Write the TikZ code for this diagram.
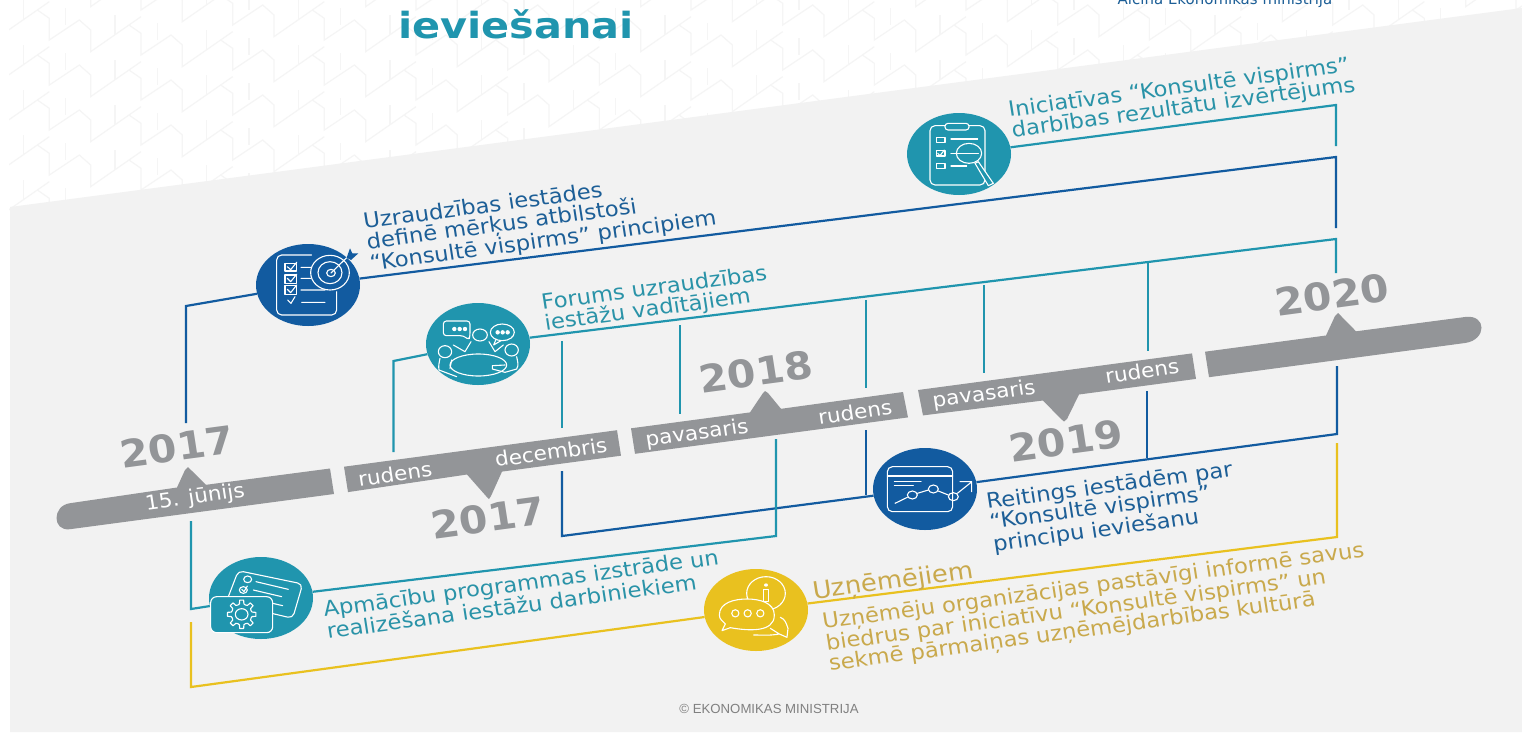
\documentclass[tikz,border=0pt]{standalone}
\usepackage{fontspec}
\setmainfont{DejaVu Sans}
\newfontfamily\liberationsans{Liberation Sans}
\usetikzlibrary{shapes.geometric}
\definecolor{panelc}{HTML}{F2F2F2}
\definecolor{patc}{HTML}{F5F5F5}
\definecolor{bandc}{HTML}{939598}
\definecolor{dblue}{HTML}{125BA0}
\definecolor{teal1}{HTML}{2095AE}
\definecolor{yell}{HTML}{E9C11F}
\definecolor{tblue}{HTML}{1D5F97}
\definecolor{tteal}{HTML}{2A93A8}
\definecolor{tyell}{HTML}{C9A94C}
\tikzset{
  sk/.style={transform shape,cm={1.069,0.1426,-0.154,0.99,(0,0)},inner sep=0pt,align=left},
  sktext/.style={sk,anchor=north west,font=\fontsize{21}{20.5}\selectfont},
  year/.style={sk,align=center,text=bandc,font=\fontsize{38}{38}\selectfont\bfseries},
  bandlabel/.style={sk,align=center,text=white,font=\fontsize{20}{22}\selectfont},
  iconball/.style={ellipse,minimum width=104pt,minimum height=82pt,inner sep=0pt},
  link/.style={line width=2.2pt,line join=miter},
  ico/.style={draw=white,line width=1.1pt,line join=round,line cap=round},
}
\begin{document}
\begin{tikzpicture}[x=1pt,y=-1pt]
\useasboundingbox (0,0) rectangle (1522,732);
\fill[white] (0,0) rectangle (1522,732);
% background pattern
\begin{scope}
\clip (9,0) rectangle (1522,215);
\foreach \i in {-2,...,16}{\foreach \j in {-8,...,5}{
  \begin{scope}[shift={({\i*91.67},{\i*15+\j*45})},x=.3333pt,y=-.3333pt]
    \draw[patc,line width=1.2pt] (112,30)--(148,55)--(148,120)--(238,60)--(272,90)--(272,155)--(423,50);
    \draw[patc,line width=1.2pt] (197,25)--(197,75) (345,45)--(345,105);
  \end{scope}}}
\end{scope}
% panel
\fill[panelc] (10,207)--(1522,8)--(1522,732)--(10,732)--cycle;
% icon balls
\node[iconball,fill=dblue] (ic1) at (308,285) {};
\node[iconball,fill=teal1] (ic2) at (478,344) {};
\node[iconball,fill=teal1] (ic3) at (959,154) {};
\node[iconball,fill=dblue] (ic4) at (925,489) {};
\node[iconball,fill=teal1] (ic5) at (261,598) {};
\node[iconball,fill=yell]  (ic6) at (756,610) {};
% free ends
\coordinate (a1) at (186,423); \coordinate (a2) at (186,306); \coordinate (a3) at (1336,157); \coordinate (a4) at (1336,228);
\coordinate (b1) at (393.5,452); \coordinate (b2) at (393.5,361); \coordinate (b3) at (1336,239); \coordinate (b4) at (1336,273);
\coordinate (c1) at (1336,105); \coordinate (c2) at (1336,146);
\coordinate (d1) at (562,471); \coordinate (d2) at (562,536); \coordinate (d3) at (1337,434); \coordinate (d4) at (1337,366);
\coordinate (e1) at (191,521); \coordinate (e2) at (191,609); \coordinate (e3) at (776,536); \coordinate (e4) at (776,439);
\coordinate (f1) at (191,622); \coordinate (f2) at (191,687); \coordinate (f3) at (1337,537); \coordinate (f4) at (1337,443);
% connectors
\draw[link,dblue] (a1)--(a2)--(ic1);
\draw[link,dblue] (ic1)--(a3)--(a4);
\draw[link,teal1] (b1)--(b2)--(ic2);
\draw[link,teal1] (ic2)--(b3)--(b4);
\draw[link,teal1] (ic3)--(c1)--(c2);
\draw[link,dblue] (d1)--(d2)--(ic4);
\draw[link,dblue] (ic4)--(d3)--(d4);
\draw[link,teal1] (e1)--(e2)--(ic5);
\draw[link,teal1] (ic5)--(e3)--(e4);
\draw[link,yell] (f1)--(f2)--(ic6);
\draw[link,yell] (ic6)--(f3)--(f4);
% verticals from the forum line and rating line
\coordinate (v1a) at (562,341); \coordinate (v1b) at (562,428);
\coordinate (v2a) at (680,325); \coordinate (v2b) at (680,414);
\coordinate (v3a) at (866,300); \coordinate (v3b) at (866,388);
\coordinate (v4a) at (984,285); \coordinate (v4b) at (984,373);
\coordinate (v5a) at (1148,263); \coordinate (v5b) at (1148,351);
\coordinate (w1a) at (866,430); \coordinate (w1b) at (866,495);
\coordinate (w2a) at (1147,391); \coordinate (w2b) at (1147,458);
\foreach \p in {v1,v2,v3,v4,v5}{\draw[link,teal1] (\p a)--(\p b);}
\foreach \p in {w1,w2}{\draw[link,dblue] (\p a)--(\p b);}
% band
\fill[bandc] (70,503.2) .. controls (52,505.6) and (52,531.6) .. (70,529.2) -- (334,494) -- (330,468.5)
  -- (206,484.8) -- (191,470) -- (188,467) -- (185,470) -- (177,487.5) -- cycle;
\fill[bandc] (344,466.7)--(617,430.2)--(621,455.7)--(502,471.6)--(491,496) -- (489,499) -- (486,496)--(467,474.5)--(348,492.1)--cycle;
\fill[bandc] (631,428.3)--(750,412.4)--(763,393)--(765,391)--(768,393)--(781,408.8)--(903,392)--(908,417.4)--(635,453.8)--cycle;
\fill[bandc] (918,390)--(1192,353.4)--(1196,378.9)--(1079,394.5)--(1067,419)--(1064,421.5)--(1061,419)--(1043,400.5)--(923,415.4)--cycle;
\fill[bandc] (1205,351.7)--(1326,335.5)--(1335,316)--(1338,313)--(1341,316)--(1356,331.3)--(1465,317)
  .. controls (1487,314) and (1487,340) .. (1465,343)--(1209,377.2)--cycle;
% years
\node[year] (y17a) at (177,447) {2017};
\node[year] (y17b) at (488,518) {2017};
\node[year] (y18) at (756,372) {2018};
\node[year] (y19) at (1066,441) {2019};
\node[year] (y20) at (1332,295) {2020};
% band labels
\node[bandlabel] (l1) at (195,498) {15. jūnijs};
\node[bandlabel] (l2) at (395,474) {rudens};
\node[bandlabel] (l3) at (551,452) {decembris};
\node[bandlabel] (l4) at (697,434) {pavasaris};
\node[bandlabel] (l5) at (855,412) {rudens};
\node[bandlabel] (l6) at (984,395) {pavasaris};
\node[bandlabel] (l7) at (1142,371) {rudens};
% texts
\node[sktext,text=tblue] (t1) at (362,213) {Uzraudzības iestādes\\definē mērķus atbilstoši\\“Konsultē vispirms” principiem};
\node[sktext,text=tteal] (t2) at (540,294) {Forums uzraudzības\\iestāžu vadītājiem};
\node[sktext,text=tteal] (t3) at (1007,101) {Iniciatīvas “Konsultē vispirms”\\darbības rezultātu izvērtējums};
\node[sktext,text=tblue] (t4) at (985,493) {Reitings iestādēm par\\“Konsultē vispirms”\\principu ieviešanu};
\node[sktext,text=tteal] (t5) at (322,601) {Apmācību programmas izstrāde un\\realizēšana iestāžu darbiniekiem};
\node[sktext,text=tyell,font=\fontsize{24}{24}\selectfont] (t6) at (811,581) {Uzņēmējiem};
\node[sktext,text=tyell] (t7) at (821,613) {Uzņēmēju organizācijas pastāvīgi informē savus\\biedrus par iniciatīvu “Konsultē vispirms” un\\sekmē pārmaiņas uzņēmējdarbības kultūrā};
% title and credits
\node[inner sep=0pt,text=teal1,font=\fontsize{36}{36}\selectfont\bfseries,xscale=1.15] (title) at (516,24) {ieviešanai};
\begin{scope}
\clip (0,0) rectangle (1522,732);
\node[inner sep=0pt,text=tblue,font=\fontsize{15}{16}\selectfont,anchor=base] (top) at (1225,4.5) {Aicina Ekonomikas ministrija};
\end{scope}
\node[inner sep=0pt,text=gray,font=\liberationsans\fontsize{13.2}{15}\selectfont] (copy) at (769,709) {© EKONOMIKAS MINISTRIJA};
% icon 1
\begin{scope}[shift={(245,235)},x=.3333pt,y=-.3333pt]
  \draw[ico] (200,60)--(110,60) to[out=180,in=90] (95,75)--(95,225) to[out=-90,in=180] (110,240)--(260,240) to[out=0,in=-90] (275,225)--(275,170);
  \draw[ico] (120,85) rectangle (155,108) (120,120) rectangle (155,145) (120,152) rectangle (155,178);
  \draw[ico] (127,95)--(137,104)--(155,82) (127,130)--(137,140)--(155,118) (127,163)--(137,173)--(155,150);
  \draw[ico] (168,97)--(198,97) (168,130)--(198,130) (168,165)--(240,165) (128,195)--(138,205)--(150,185) (170,202)--(240,202);
  \draw[ico] (255,113) ellipse [x radius=58,y radius=52];
  \draw[ico] (255,113) ellipse [x radius=36,y radius=33];
  \draw[ico] (258,114) ellipse [x radius=13,y radius=11];
  \draw[ico] (258,114)--(305,68);
  \fill[dblue] (305,68)--(315,40)--(322,55)--(340,55)--(318,75)--cycle;
\end{scope}
% icon 2
\begin{scope}[shift={(415,295)},x=.3333pt,y=-.3333pt]
  \draw[ico,rounded corners=3pt] (85,78)--(165,78)--(165,122)--(162,135)--(145,122)--(85,122)--cycle;
  \fill[white] (118,102) circle (2.2pt) (134,102) circle (2.2pt) (150,102) circle (2.2pt);
  \draw[ico] (262,112) ellipse [x radius=36,y radius=25];
  \draw[ico] (243,133)--(236,150)--(258,137);
  \fill[white] (248,112) circle (2.2pt) (263,112) circle (2.2pt) (278,112) circle (2.2pt);
  \draw[ico] (195,120) ellipse [x radius=22,y radius=18];
  \draw[ico] (90,170) ellipse [x radius=20,y radius=18] (290,165) ellipse [x radius=20,y radius=18];
  \draw[ico] (115,150)--(150,170)--(168,140) (222,140)--(240,170)--(265,150);
  \draw[ico] (190,210) ellipse [x radius=85,y radius=33];
  \draw[ico] (75,190) to[out=-100,in=100] (72,225)--(125,245) (110,195)--(105,220);
  \draw[ico] (305,185) to[out=-80,in=60] (305,222)--(270,232)--(232,222)--(232,212)--(270,210);
\end{scope}
% icon 3
\begin{scope}[shift={(895,105)},x=.3333pt,y=-.3333pt]
  \draw[ico,rounded corners=5pt] (105,62) rectangle (270,240);
  \draw[ico,fill=teal1,rounded corners=3pt] (150,55) rectangle (222,75);
  \draw[ico] (125,98) rectangle (150,113) (125,137) rectangle (150,153) (125,175) rectangle (150,190);
  \draw[ico] (128,145)--(135,152)--(148,135);
  \draw[ico] (168,102)--(248,102) (168,145)--(250,145) (168,183)--(215,183);
  \draw[ico,fill=teal1,fill opacity=.35] (222,145) ellipse [x radius=38,y radius=30];
  \draw[ico] (180,145)--(250,145);
  \draw[ico,fill=teal1] (240,175)--(250,170)--(295,235)--(280,242)--cycle;
\end{scope}
% icon 4
\begin{scope}[shift={(860,440)},x=.3333pt,y=-.3333pt]
  \draw[ico,rounded corners=5pt] (278,185)--(278,80)--(82,80)--(82,215)--(278,215)--(278,185);
  \draw[ico] (82,108)--(278,108) (103,125)--(183,125) (103,137)--(160,137);
  \draw[ico] (105,190)--(142,172) (172,160)--(205,150) (235,153)--(265,165) (292,160)--(332,128) (300,125)--(335,125)--(335,155);
  \draw[ico] (157,165) ellipse [x radius=15,y radius=12] (220,147) ellipse [x radius=15,y radius=12] (280,170) ellipse [x radius=15,y radius=12];
\end{scope}
% icon 5
\begin{scope}[shift={(200,550)},x=.3333pt,y=-.3333pt]
  \draw[ico,rounded corners=5pt] (85,140)--(115,62)--(308,102)--(278,205)--(215,190);
  \draw[ico] (143,88) ellipse [x radius=12,y radius=10] (130,120) ellipse [x radius=12,y radius=10];
  \draw[ico] (125,118)--(132,125)--(142,108);
  \draw[ico] (168,95)--(265,118) (160,120)--(245,140) (218,160)--(248,167);
  \draw[ico,fill=teal1,rounded corners=6pt] (32,140) rectangle (218,248);
  \begin{scope}[shift={(125,193)}]
    \draw[ico] \foreach \a in {0,45,...,315}{ (\a-24:30)--(\a-12:32)--(\a-8:43)--(\a+8:43)--(\a+12:32)--(\a+24:30)};
    \draw[ico] (0,0) ellipse [x radius=19,y radius=17];
  \end{scope}
\end{scope}
% icon 6
\begin{scope}[shift={(692,560)},x=.3333pt,y=-.3333pt]
  \draw[ico] (222,100) ellipse [x radius=58,y radius=50];
  \fill[white] (222,75) ellipse [x radius=6,y radius=5];
  \draw[ico] (215,88) rectangle (229,125);
  \draw[ico,fill=yell] (115,203) to[out=-10,in=-90] (247,165) to[out=90,in=0] (165,117) to[out=180,in=90] (82,165) to[out=-90,in=130] (100,192)--(90,212)--cycle;
  \draw[ico] (130,160) circle (3.6pt) (167,160) circle (3.6pt) (205,160) circle (3.6pt);
  \draw[ico] (265,172) to[out=-20,in=110] (288,205)--(285,232)--(262,222) to[out=190,in=0] (185,225) (235,205)--(262,222);
\end{scope}
\end{tikzpicture}
\end{document}
